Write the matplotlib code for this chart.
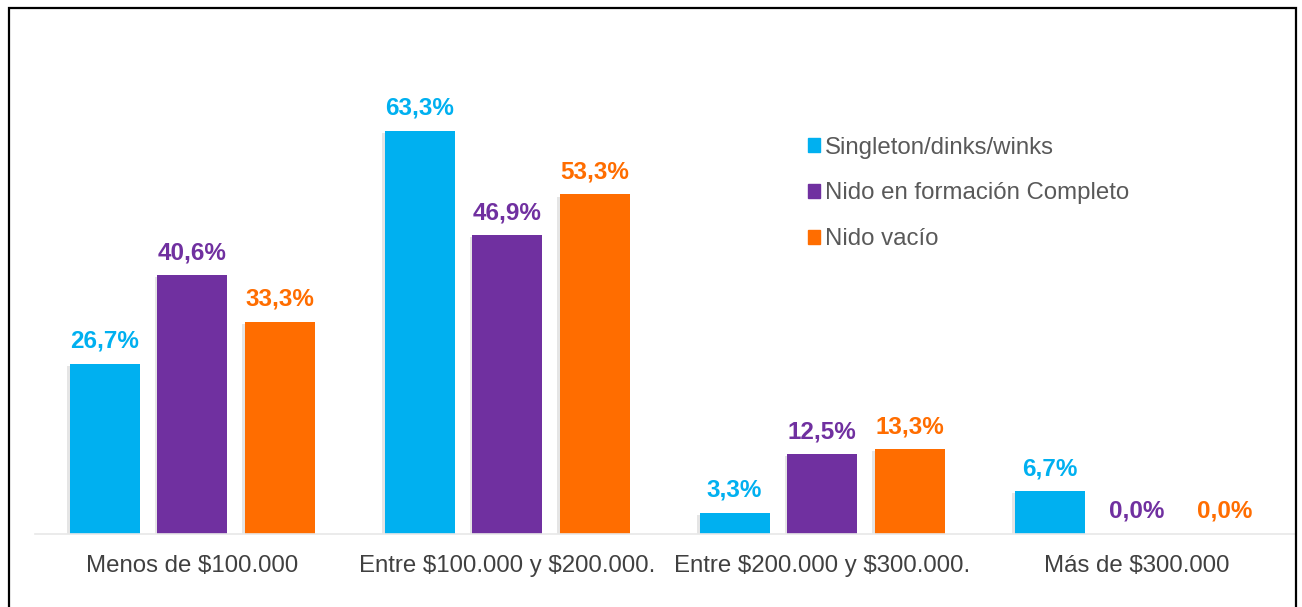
import matplotlib
matplotlib.use("Agg")
import matplotlib.pyplot as plt
import matplotlib.patheffects as pe
from matplotlib.patches import Patch, Rectangle
import numpy as np

# Income brackets and share of each household group (%)
categories = ["Menos de $100.000", "Entre $100.000 y $200.000.",
              "Entre $200.000 y $300.000.", "Más de $300.000"]
series_names = ["Singleton/dinks/winks", "Nido en formación Completo", "Nido vacío"]
singleton = [26.7, 63.3, 3.3, 6.7]
nido_formacion = [40.6, 46.9, 12.5, 0.0]
nido_vacio = [33.3, 53.3, 13.3, 0.0]
colors = ["#00B0F0", "#7030A0", "#FF6D00"]

plt.rcParams["font.family"] = ["Liberation Sans", "DejaVu Sans"]
plt.rcParams["text.parse_math"] = False  # labels contain "$"

W, H = 1302, 607
fig = plt.figure(figsize=(W / 100, H / 100), dpi=100)

# axes placed so the baseline sits where the bars start
left_px, right_px, base_px = 34.5, 1294.5, 534
ymax = 75
px_per_unit = 6.37
top_px = base_px - ymax * px_per_unit
ax = fig.add_axes([left_px / W, (H - base_px) / H,
                   (right_px - left_px) / W, (base_px - top_px) / H])

x = np.arange(len(categories))
width = 70 / 315
pitch = 87.5 / 315
shadow = [pe.SimplePatchShadow(offset=(-1.5, -1.5), shadow_rgbFace="#999999", alpha=0.25),
          pe.Normal()]

for i, (name, vals) in enumerate(zip(series_names, [singleton, nido_formacion, nido_vacio])):
    pos = x + (i - 1) * pitch
    bars = ax.bar(pos, vals, width, color=colors[i], label=name, zorder=2)
    for b, v in zip(bars, vals):
        if v > 0:
            b.set_path_effects(shadow)
        ax.annotate(f"{v:.1f}%".replace(".", ","), (b.get_x() + b.get_width() / 2, v),
                    xytext=(0, 8), textcoords="offset points", ha="center", va="bottom",
                    fontsize=17.5, fontweight="bold", color=colors[i])

ax.set_xlim(-0.5, len(categories) - 0.5)
ax.set_ylim(0, ymax)
ax.set_xticks(x)
ax.set_xticklabels(categories, fontsize=17.3, color="#404040")
ax.tick_params(axis="x", length=0, pad=15)
ax.set_yticks([])
for s in ["top", "left", "right"]:
    ax.spines[s].set_visible(False)
ax.spines["bottom"].set_color("#E8E8E8")
ax.spines["bottom"].set_linewidth(1.2)

handles = [Patch(color=c, label=n) for c, n in zip(colors, series_names)]
leg = fig.legend(handles=handles, loc="upper left", bbox_to_anchor=(798 / W, 1 - 127 / H),
                 frameon=False, fontsize=17.3, handlelength=0.52, handleheight=0.52,
                 handletextpad=0.2, labelspacing=0.99, borderaxespad=0)
for t in leg.get_texts():
    t.set_color("#595959")

# outer frame around the whole chart
fig.add_artist(Rectangle((9 / W, -0.05), (1296 - 9) / W, 1.05 - 8 / H,
                         transform=fig.transFigure, fill=False,
                         edgecolor="black", linewidth=1.6))

fig.savefig("out.png", dpi=100)
